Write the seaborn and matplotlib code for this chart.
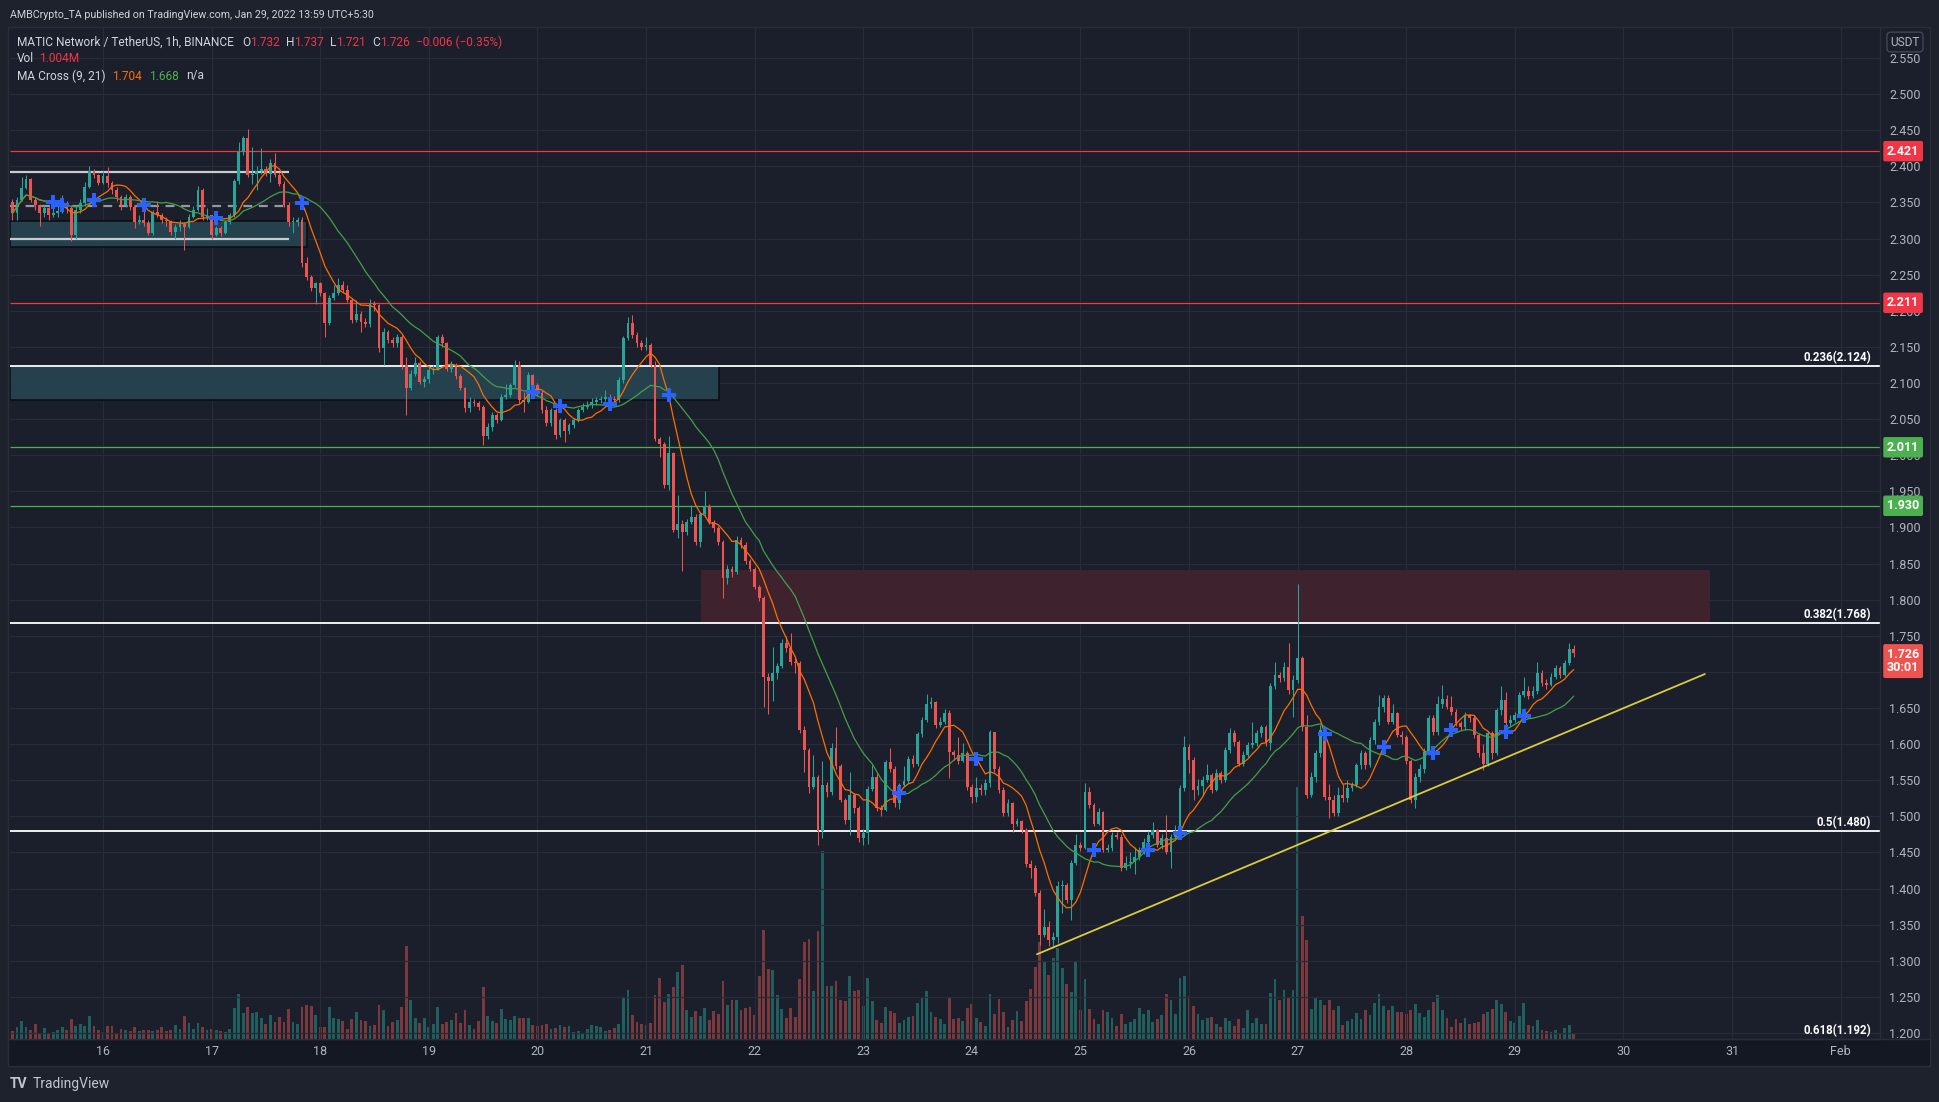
import numpy as np
import pandas as pd
import matplotlib
matplotlib.use("Agg")
import matplotlib.pyplot as plt
import matplotlib.transforms as mtransforms
from matplotlib.patches import Rectangle
import seaborn as sns

sns.set_theme(style="dark")
plt.rcParams['font.family'] = ['Roboto', 'DejaVu Sans']

# ------------------------------------------------------------------ data
first_hour = 4          # first candle = Jan 15 04:00 (hours counted from Jan 15 00:00)
first_open = 2.350

closes = [
2.335,2.353,2.370,2.383,2.353,2.346,2.335,2.342,2.333,2.336,
2.338,2.349,2.342,2.305,2.340,2.349,2.372,2.393,2.388,2.377,
2.386,2.377,2.367,2.358,2.346,2.358,2.343,2.323,2.326,2.321,
2.308,2.337,2.333,2.326,2.324,2.309,2.316,2.320,2.316,2.330,
2.340,2.367,2.330,2.332,2.305,2.314,2.307,2.323,2.333,2.379,
2.420,2.439,2.388,2.390,2.393,2.396,2.390,2.404,2.388,2.376,
2.346,2.323,2.323,2.326,2.266,2.247,2.231,2.238,2.224,2.183,
2.217,2.224,2.236,2.229,2.215,2.187,2.195,2.185,2.181,2.210,
2.208,2.148,2.171,2.159,2.155,2.164,2.125,2.093,2.113,2.127,
2.102,2.105,2.118,2.120,2.164,2.155,2.120,2.125,2.109,2.093,
2.065,2.074,2.072,2.067,2.026,2.039,2.056,2.049,2.081,2.083,
2.097,2.125,2.076,2.074,2.111,2.097,2.086,2.063,2.044,2.063,
2.028,2.049,2.033,2.042,2.049,2.063,2.067,2.069,2.074,2.076,
2.078,2.081,2.078,2.076,2.104,2.162,2.183,2.166,2.155,2.150,
2.152,2.125,2.023,2.016,1.959,2.003,1.896,1.905,1.894,1.908,
1.915,1.880,1.919,1.929,1.908,1.899,1.880,1.830,1.842,1.838,
1.883,1.876,1.853,1.843,1.818,1.802,1.693,1.687,1.698,1.708,
1.740,1.733,1.714,1.712,1.620,1.592,1.541,1.555,1.479,1.543,
1.534,1.594,1.569,1.523,1.495,1.530,1.511,1.470,1.477,1.538,
1.555,1.511,1.509,1.575,1.566,1.518,1.543,1.549,1.580,1.573,
1.614,1.633,1.656,1.658,1.626,1.631,1.643,1.589,1.585,1.576,
1.587,1.541,1.527,1.539,1.537,1.546,1.617,1.566,1.536,1.504,
1.518,1.490,1.493,1.481,1.434,1.428,1.394,1.336,1.347,1.329,
1.333,1.403,1.405,1.384,1.435,1.460,1.456,1.534,1.516,1.490,
1.506,1.453,1.456,1.474,1.472,1.428,1.435,1.437,1.444,1.453,
1.465,1.474,1.481,1.460,1.470,1.451,1.472,1.476,1.539,1.596,
1.578,1.537,1.542,1.550,1.557,1.537,1.560,1.550,1.592,1.615,
1.603,1.573,1.585,1.599,1.601,1.615,1.624,1.601,1.680,1.696,
1.691,1.707,1.675,1.689,1.719,1.624,1.530,1.555,1.587,1.620,
1.527,1.523,1.504,1.529,1.525,1.539,1.543,1.571,1.587,1.571,
1.606,1.631,1.652,1.664,1.631,1.643,1.613,1.610,1.576,1.523,
1.555,1.566,1.589,1.636,1.617,1.656,1.663,1.652,1.645,1.629,
1.624,1.640,1.636,1.613,1.587,1.573,1.615,1.587,1.647,1.661,
1.629,1.633,1.640,1.668,1.673,1.666,1.673,1.698,1.684,1.682,
1.693,1.705,1.696,1.712,1.732,1.726]

highs = [
2.355,2.358,2.385,2.388,2.384,2.357,2.348,2.345,2.344,2.343,
2.345,2.360,2.352,2.346,2.345,2.355,2.378,2.400,2.396,2.390,
2.393,2.399,2.380,2.372,2.360,2.362,2.360,2.346,2.332,2.340,
2.325,2.340,2.352,2.336,2.330,2.326,2.320,2.325,2.323,2.334,
2.345,2.373,2.370,2.342,2.333,2.318,2.318,2.326,2.336,2.382,
2.434,2.442,2.452,2.427,2.400,2.425,2.400,2.410,2.418,2.392,
2.380,2.350,2.330,2.330,2.330,2.275,2.250,2.240,2.240,2.226,
2.222,2.236,2.245,2.241,2.236,2.218,2.215,2.200,2.190,2.216,
2.214,2.210,2.176,2.174,2.163,2.168,2.166,2.136,2.118,2.136,
2.130,2.110,2.123,2.125,2.166,2.168,2.157,2.130,2.127,2.112,
2.095,2.080,2.078,2.075,2.070,2.045,2.060,2.058,2.085,2.098,
2.100,2.132,2.130,2.088,2.115,2.113,2.100,2.090,2.068,2.066,
2.066,2.052,2.052,2.045,2.052,2.066,2.072,2.075,2.079,2.080,
2.082,2.090,2.085,2.082,2.108,2.165,2.192,2.194,2.170,2.160,
2.164,2.155,2.130,2.025,2.018,2.026,2.005,1.945,1.910,1.912,
1.931,1.918,1.922,1.950,1.932,1.910,1.902,1.883,1.848,1.846,
1.888,1.887,1.880,1.856,1.845,1.820,1.805,1.698,1.735,1.712,
1.745,1.749,1.754,1.720,1.715,1.625,1.594,1.585,1.557,1.576,
1.548,1.601,1.624,1.572,1.526,1.562,1.532,1.514,1.482,1.542,
1.571,1.560,1.515,1.578,1.594,1.569,1.546,1.570,1.583,1.585,
1.617,1.637,1.669,1.665,1.660,1.637,1.648,1.647,1.592,1.610,
1.602,1.590,1.545,1.555,1.545,1.552,1.619,1.617,1.570,1.540,
1.524,1.520,1.498,1.495,1.484,1.440,1.432,1.398,1.372,1.355,
1.340,1.410,1.412,1.408,1.440,1.476,1.465,1.546,1.540,1.518,
1.512,1.508,1.462,1.478,1.478,1.476,1.445,1.450,1.458,1.458,
1.470,1.480,1.492,1.482,1.476,1.502,1.476,1.488,1.543,1.611,
1.600,1.582,1.552,1.556,1.573,1.560,1.566,1.563,1.596,1.622,
1.620,1.606,1.590,1.603,1.631,1.620,1.627,1.626,1.684,1.714,
1.700,1.714,1.740,1.695,1.822,1.722,1.640,1.562,1.592,1.627,
1.624,1.545,1.530,1.540,1.545,1.550,1.548,1.574,1.592,1.590,
1.610,1.635,1.668,1.668,1.668,1.656,1.645,1.618,1.612,1.580,
1.560,1.572,1.594,1.640,1.640,1.666,1.682,1.668,1.666,1.648,
1.632,1.645,1.642,1.640,1.616,1.600,1.618,1.618,1.650,1.680,
1.672,1.640,1.645,1.672,1.693,1.680,1.680,1.714,1.702,1.690,
1.698,1.710,1.708,1.716,1.740,1.737]

lows = [
2.326,2.326,2.352,2.368,2.350,2.340,2.318,2.330,2.325,2.330,
2.330,2.335,2.336,2.296,2.300,2.335,2.345,2.370,2.384,2.374,
2.375,2.372,2.362,2.352,2.340,2.344,2.340,2.315,2.320,2.318,
2.305,2.305,2.330,2.322,2.318,2.305,2.300,2.310,2.284,2.314,
2.328,2.338,2.326,2.325,2.300,2.303,2.304,2.306,2.320,2.330,
2.375,2.415,2.385,2.376,2.367,2.390,2.386,2.378,2.385,2.373,
2.343,2.318,2.308,2.318,2.260,2.243,2.228,2.210,2.220,2.164,
2.180,2.215,2.222,2.226,2.212,2.183,2.185,2.170,2.178,2.178,
2.200,2.143,2.125,2.155,2.150,2.150,2.120,2.056,2.090,2.110,
2.098,2.095,2.100,2.112,2.118,2.150,2.117,2.115,2.106,2.090,
2.060,2.060,2.068,2.062,2.014,2.022,2.034,2.045,2.047,2.078,
2.080,2.095,2.072,2.060,2.072,2.094,2.082,2.058,2.040,2.040,
2.022,2.025,2.018,2.030,2.038,2.046,2.060,2.064,2.066,2.070,
2.072,2.075,2.075,2.072,2.074,2.100,2.160,2.162,2.150,2.146,
2.146,2.122,2.020,1.998,1.955,1.952,1.893,1.885,1.839,1.890,
1.905,1.876,1.873,1.915,1.905,1.894,1.876,1.802,1.822,1.832,
1.836,1.872,1.850,1.840,1.815,1.798,1.652,1.642,1.659,1.690,
1.705,1.728,1.710,1.698,1.615,1.562,1.532,1.538,1.460,1.470,
1.527,1.530,1.565,1.520,1.490,1.474,1.505,1.465,1.460,1.462,
1.535,1.508,1.501,1.508,1.562,1.513,1.510,1.540,1.546,1.568,
1.570,1.610,1.630,1.650,1.622,1.624,1.628,1.553,1.578,1.572,
1.575,1.537,1.518,1.520,1.530,1.530,1.540,1.562,1.532,1.500,
1.500,1.478,1.486,1.477,1.430,1.414,1.390,1.322,1.333,1.320,
1.319,1.325,1.366,1.380,1.356,1.432,1.452,1.455,1.512,1.486,
1.488,1.450,1.450,1.452,1.468,1.424,1.426,1.428,1.420,1.440,
1.448,1.462,1.470,1.457,1.455,1.448,1.428,1.468,1.470,1.535,
1.560,1.522,1.530,1.530,1.548,1.532,1.535,1.546,1.548,1.588,
1.598,1.569,1.570,1.582,1.595,1.598,1.610,1.597,1.592,1.676,
1.686,1.688,1.670,1.638,1.684,1.618,1.525,1.527,1.548,1.582,
1.523,1.497,1.500,1.500,1.520,1.520,1.535,1.540,1.565,1.566,
1.568,1.600,1.626,1.645,1.628,1.628,1.610,1.600,1.572,1.518,
1.511,1.548,1.560,1.585,1.612,1.612,1.650,1.648,1.640,1.625,
1.620,1.620,1.630,1.608,1.582,1.564,1.570,1.580,1.585,1.640,
1.622,1.624,1.630,1.638,1.665,1.662,1.664,1.670,1.680,1.676,
1.680,1.690,1.692,1.694,1.710,1.721]

volumes = [  # millions
1.7,2.5,3.7,2.5,1.8,3.0,1.0,2.3,1.3,1.5,
1.9,2.5,1.9,4.1,2.7,3.1,2.7,4.7,2.7,1.9,
1.5,2.7,2.7,1.3,2.1,1.9,1.7,2.5,1.7,1.9,
1.9,1.7,1.9,2.5,1.7,1.9,2.9,2.1,4.7,3.3,
2.1,3.3,2.5,1.9,2.1,1.9,1.7,1.5,2.1,6.3,
9.1,5.3,6.5,5.3,5.5,4.3,3.1,4.9,3.5,4.5,
3.5,6.1,3.5,3.1,6.5,6.9,6.7,4.9,2.5,2.5,
6.5,4.3,4.1,3.7,2.1,4.1,5.5,3.9,3.7,2.7,
2.9,6.9,5.9,2.7,3.5,3.9,6.5,18.7,7.9,4.3,
3.3,4.3,2.5,3.1,6.5,3.1,3.5,3.9,5.3,3.3,
5.9,2.9,2.1,3.7,10.5,4.7,3.7,3.3,6.1,4.1,
3.9,4.7,4.3,4.3,4.3,2.9,2.7,2.9,3.1,2.1,
2.3,2.9,2.5,2.7,1.5,1.7,1.3,2.1,2.9,2.7,
2.5,1.7,1.9,2.3,3.1,8.5,9.9,4.9,3.5,3.1,
2.9,3.3,8.9,12.3,7.5,9.1,10.5,13.5,14.9,5.9,
4.5,5.7,4.7,6.3,3.9,5.7,5.1,11.7,6.9,7.9,
7.9,5.9,6.3,6.5,4.9,12.7,21.9,14.1,13.9,8.9,
6.1,4.3,6.3,4.5,12.1,19.5,20.1,9.7,21.7,37.6,
10.7,10.7,11.7,7.9,7.7,12.7,9.7,9.9,6.7,12.3,
7.7,3.9,3.3,6.5,5.7,5.3,3.3,3.9,4.5,4.7,
7.3,8.5,9.7,5.5,4.5,4.1,3.1,8.3,4.1,4.3,
3.7,6.3,7.1,4.3,3.5,2.7,9.1,5.1,8.1,5.5,
2.5,3.9,5.7,3.7,7.7,10.1,14.5,19.5,15.7,12.9,
16.3,18.3,14.3,11.1,9.5,15.5,5.9,12.1,6.1,4.1,
3.1,5.9,5.5,4.3,2.7,5.1,3.1,3.5,4.1,6.3,
5.1,5.9,3.5,4.1,4.9,9.1,7.9,5.1,12.3,12.7,
8.7,6.7,5.1,3.9,4.3,4.5,3.1,2.5,4.3,3.7,
2.7,4.1,2.3,5.9,3.3,4.3,3.1,3.1,9.3,12.1,
7.9,9.9,8.5,9.9,50.4,24.7,19.9,6.1,8.5,7.9,
6.9,7.9,5.9,6.7,2.9,3.7,4.1,5.3,4.1,5.9,
4.9,7.3,9.1,6.7,5.9,6.7,5.5,5.5,5.1,5.9,
7.1,5.3,4.5,5.9,7.5,8.9,5.9,4.3,2.5,4.1,
3.3,4.3,3.1,3.3,3.5,5.1,5.5,6.1,7.9,7.1,
5.5,3.7,3.3,4.7,7.3,2.9,2.7,3.9,1.9,1.7,
1.5,1.9,1.1,2.3,2.9,1.0]

day_labels = ["16", "17", "18", "19", "20", "21", "22", "23", "24", "25",
              "26", "27", "28", "29", "30", "31", "Feb"]
day_hours = [24 * (k + 1) for k in range(len(day_labels))]

red_levels = [2.421, 2.211]
green_levels = [2.011, 1.930]
fib_levels = [2.124, 1.768, 1.480, 1.192]
fib_names = ["0.236", "0.382", "0.5", "0.618"]

range_lines = [2.392, 2.299]
range_mid = 2.345
range_end = 65.1
teal_boxes = [(3.45, 69.1, 2.288, 2.324), (3.45, 160.1, 2.076, 2.124)]
supply_box = (156.2, 379.1, 1.768, 1.841)
trend_x = [230.4, 378.0]
trend_y = [1.309, 1.697]

last_price = 1.726
countdown = "30:01"
legend_vol = "1.004M"
legend_ma = ["1.704", "1.668"]
hidden_ticks = [1.70]   # covered by the last-price tag in the reference

# ------------------------------------------------------------------ style
UP, DN = '#26a69a', '#ef5350'
VUP, VDN = '#1f5f5e', '#7b383d'
BG = '#1b1f2b'
OUTER = '#1e222d'
BAND = '#141823'
GRID = '#282c37'
TXT = '#d1d4dc'
AXT = '#b2b5be'
RED = '#f23645'
GRN = '#4caf50'
ORANGE = '#ff6d00'
MAGRN = '#43a047'

W, H = 1940, 1102
PLOT_BOTTOM = 1039
fig = plt.figure(figsize=(W / 100, H / 100), dpi=100, facecolor=OUTER)
fx = lambda px: px / W
fy = lambda py: 1 - py / H

# panel backgrounds
fig.add_artist(Rectangle((fx(8), fy(1066)), fx(1930) - fx(8), fy(27) - fy(1066),
                         transform=fig.transFigure, fc=BG, ec='#2a2e39', lw=1, zorder=-5))
fig.add_artist(Rectangle((fx(8), fy(1066)), fx(1930) - fx(8), fy(PLOT_BOTTOM) - fy(1066),
                         transform=fig.transFigure, fc=BAND, ec='#2a2e39', lw=1, zorder=-4))

ax = fig.add_axes([fx(10), fy(PLOT_BOTTOM), fx(1880) - fx(10), fy(27) - fy(PLOT_BOTTOM)])
axv = ax.twinx()
ax.set_zorder(2)
axv.set_zorder(1)
ax.patch.set_visible(False)
axv.patch.set_visible(False)

n = min(len(closes), len(highs), len(lows), len(volumes))
c = np.array(closes[:n])
o = np.concatenate([[first_open], c[:-1]])
hi = np.maximum(np.array(highs[:n]), np.maximum(o, c))
lo = np.minimum(np.array(lows[:n]), np.minimum(o, c))
vol = np.array(volumes[:n])
x = first_hour + np.arange(n)
up = c >= o
ccol = np.where(up, UP, DN)
vcol = np.where(up, VUP, VDN)

ylo = 2.55 - (PLOT_BOTTOM - 58) / 722.2
yhi = 2.55 + (58 - 27) / 722.2

# volume
axv.bar(x, vol, width=0.62, color=vcol, lw=0)
axv.set_ylim(0, (PLOT_BOTTOM - 27) / 5.0)
axv.set_yticks([])
axv.tick_params(right=False, labelright=False)
for s in axv.spines.values():
    s.set_visible(False)

# grid + ticks
ax.set_axisbelow(True)
yt = np.round(np.arange(1.20, 2.5501, 0.05), 3)
ax.set_yticks(yt, ["" if any(abs(v - h) < 1e-6 for h in hidden_ticks) else f"{v:.3f}" for v in yt])
ax.set_xticks(day_hours, day_labels)
ax.grid(True, color=GRID, lw=0.9)

# boxes
for (x0, x1, y0, y1) in teal_boxes:
    ax.add_patch(Rectangle((x0, y0), x1 - x0, y1 - y0, fc='#264552', alpha=0.92,
                           ec='#0c0f15', lw=1.3, zorder=1))
x0, x1, y0, y1 = supply_box
ax.add_patch(Rectangle((x0, y0), x1 - x0, y1 - y0, fc='#42242f', alpha=0.92, ec='none', zorder=1))

# horizontal levels
ax.hlines(red_levels, 3.45, 416.7, color=RED, lw=0.9, zorder=2)
ax.hlines(green_levels, 3.45, 416.7, color=GRN, lw=0.9, zorder=2)
visible_fibs = [lv for lv in fib_levels if lv > ylo + 0.002]
ax.hlines(visible_fibs, 3.45, 416.7, color='#ffffff', lw=1.3, zorder=2)
ax.hlines(range_lines, 3.45, range_end, color='#c9cbd1', lw=1.6, zorder=2)
ax.hlines(range_mid, 3.45, range_end, color='#9598a1', lw=1.6, linestyles=(0, (4, 3)), zorder=2)

# candles
ax.vlines(x, lo, hi, colors=ccol, lw=0.75, zorder=3)
ax.bar(x, np.maximum(np.abs(c - o), 0.0008), bottom=np.minimum(o, c), width=0.62,
       color=ccol, lw=0, zorder=4)

# moving averages
ma9 = pd.Series(c).rolling(9, min_periods=1).mean().values
ma21 = pd.Series(c).rolling(21, min_periods=1).mean().values
sns.lineplot(x=x, y=ma9, color=ORANGE, lw=0.9, ax=ax, zorder=5, estimator=None)
sns.lineplot(x=x, y=ma21, color=MAGRN, lw=0.9, ax=ax, zorder=5, estimator=None)
sgn = np.sign(ma9 - ma21)
idx = [i for i in range(4, n) if sgn[i] != 0 and sgn[i] != sgn[i - 1]]
sns.scatterplot(x=x[idx], y=ma9[idx], marker='P', s=95, color='#2962ff',
                linewidth=0, ax=ax, zorder=6)

# trend line
sns.lineplot(x=trend_x, y=trend_y, color='#dccb3c', lw=1.3, ax=ax, zorder=5, estimator=None)

ax.set_xlim(3.45, 416.7)
ax.set_ylim(ylo, yhi)

# axes styling
ax.yaxis.tick_right()
ax.tick_params(axis='y', length=0, pad=6.5, labelsize=9, labelcolor=AXT,
               left=False, labelleft=False, right=False, labelright=True)
ax.tick_params(axis='x', length=0, pad=4.5, labelsize=9, labelcolor=AXT)
for k, s in ax.spines.items():
    s.set_visible(k in ('right', 'bottom'))
    s.set_color('#2a2e39')
    s.set_linewidth(1)

blend = mtransforms.blended_transform_factory(ax.transAxes, ax.transData)
for lvl, nm in zip(fib_levels, fib_names):
    ax.text(0.9952, lvl + 0.002, f"{nm}({lvl:.3f})", transform=blend, ha='right', va='bottom',
            color='white', fontsize=8.3, fontweight='bold', zorder=7)

def price_tag(level, text, fc, dy=0):
    ax.annotate(text, xy=(1.0, level), xycoords=('axes fraction', 'data'),
                xytext=(7, dy), textcoords='offset pixels', ha='left', va='center',
                color='white', fontsize=9, fontweight='bold', annotation_clip=False,
                linespacing=1.05, zorder=10,
                bbox=dict(boxstyle='round,pad=0.3,rounding_size=0.15', fc=fc, ec='none'))

for lvl in red_levels:
    price_tag(lvl, f"{lvl:.3f}", RED)
for lvl in green_levels:
    price_tag(lvl, f"{lvl:.3f}", GRN)
price_tag(last_price, f"{last_price:.3f}\n{countdown}", '#ef5350', dy=-8)

fig.text(fx(1905), fy(42), "USDT", ha='center', va='center', color=AXT, fontsize=8.6,
         bbox=dict(boxstyle='round,pad=0.28,rounding_size=0.3', fc=BG, ec='#434651', lw=1))

# header / legend text
renderer = fig.canvas.get_renderer()

def seq_text(x_px, y_px, pieces, size, weight='normal'):
    xp = x_px
    for s, col, gap in pieces:
        xp += gap
        t = fig.text(fx(xp), fy(y_px), s, color=col, fontsize=size, va='center',
                     ha='left', fontweight=weight)
        xp += t.get_window_extent(renderer=renderer).width

seq_text(10, 15, [("AMBCrypto_TA published on TradingView.com, Jan 29, 2022 13:59 UTC+5:30", TXT, 0)], 7.7)
chg = c[-1] - o[-1]
seq_text(17, 42, [("MATIC Network / TetherUS, 1h, BINANCE", TXT, 0),
                  ("O", TXT, 8), (f"{o[-1]:.3f}", RED, 0),
                  ("H", TXT, 6), (f"{hi[-1]:.3f}", RED, 0),
                  ("L", TXT, 6), (f"{lo[-1]:.3f}", RED, 0),
                  ("C", TXT, 6), (f"{c[-1]:.3f}", RED, 0),
                  (f"\u2212{abs(chg):.3f} (\u2212{abs(chg) / o[-1] * 100:.2f}%)", RED, 6)], 8.6)
seq_text(17, 59, [("Vol", TXT, 0), (legend_vol, RED, 5)], 8.6)
seq_text(17, 76, [("MA Cross (9, 21)", TXT, 0), (legend_ma[0], ORANGE, 7),
                  (legend_ma[1], GRN, 7), ("n/a", TXT, 7)], 8.6)
seq_text(10, 1084, [("TV", '#c3c6ce', 0)], 10, weight='bold')
seq_text(33, 1084, [("TradingView", '#c3c6ce', 0)], 10)

fig.savefig("out.png", dpi=100, facecolor=OUTER)
